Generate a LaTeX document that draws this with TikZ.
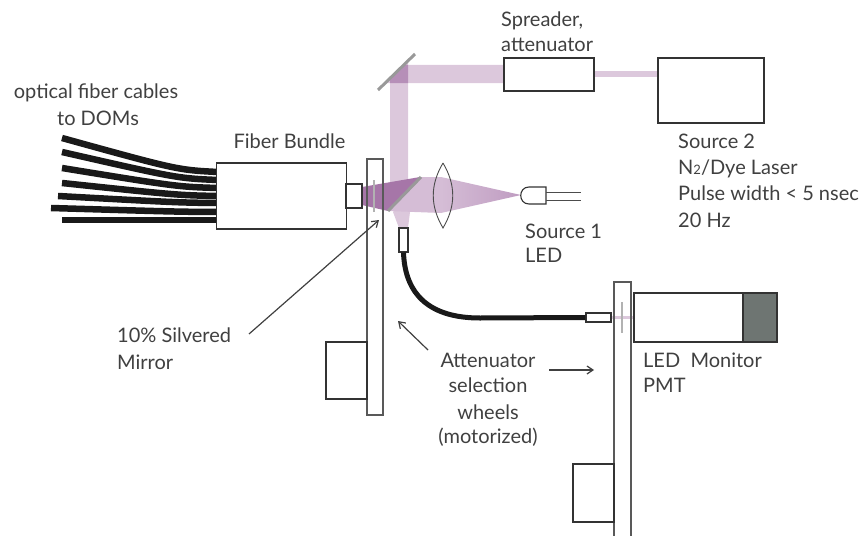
\documentclass[tikz,border=0pt]{standalone}
\usepackage{fontspec}
\setmainfont{Lato}
\usetikzlibrary{arrows.meta,calc}
\colorlet{line edge}{black!80}
\colorlet{mirror edge}{black!40}
\definecolor{beam light}{HTML}{DCC8DC}
\definecolor{beam mid}{HTML}{D5BDD6}
\definecolor{beam dark}{HTML}{A676A8}
\definecolor{beam lamp}{HTML}{BF9CC1}
\definecolor{pmt end}{HTML}{6E7572}
\tikzset{
  label/.style={inner sep=0pt, text=black!75, font=\fontsize{20}{20}\selectfont},
  flabel/.style={label, anchor=base west},
  clabel/.style={label, anchor=base},
  box/.style={draw=line edge, line width=1.1pt, inner sep=0pt, fill=white},
  plate/.style={draw=black!65, line width=1.3pt, inner sep=0pt},
  mirror/.style={draw=mirror edge, line width=3pt},
  pointer/.style={draw=black!75, line width=1.2pt, -{Straight Barb[length=6pt,width=8pt]}},
  fiber/.style={draw=black!90, line width=6.5pt}
  }
\tikzstyle{slit} = [draw=black!30, line width=2pt]
\tikzstyle{cable} = [draw=black!90, line width=5pt]
\begin{document}
\begin{tikzpicture}[x=1pt,y=-1pt]
   \useasboundingbox (0,0) rectangle (864,535);

   % light paths go first, the boxes sit on top of them
   \fill[beam light] (594,71) rectangle (658,77);
   \fill[beam light] (404,65) -- (504,65) -- (504,83) -- (385,83) -- cycle;
   \fill[beam light] (390,78) -- (408,61) -- (408,195) -- (390,210) -- cycle;
   \fill[beam dark!70!beam light] (404,65) -- (408,65) -- (408,83) -- (390,83) -- (390,78) -- cycle;
   \fill[beam light] (393,212) -- (408,196) -- (410,212) -- (408,228) -- (399,228) -- cycle;
   \fill[beam dark] (362,187) -- (420,177) -- (388,211) -- (362,205) -- cycle;
   \fill[beam mid] (420,177) -- (441,177) -- (441,213) -- (388,211) -- cycle;
   \shade[left color=beam mid, right color=beam lamp] (441,177) -- (521,195) -- (441,213) -- cycle;
   \fill[beam light] (610,316) rectangle (634,319);

   % fibers running into the bundle
   \foreach \i/\sx/\sy/\ey in {1/62/138/172, 2/62/152/180, 3/62/168/188, 4/62/183/196,
                               5/58/196/203, 6/51/208/212, 7/62/220/220}{
     \coordinate (s\i) at (\sx,\sy);
     \coordinate (e\i) at (218,\ey);
     \path[fiber] (s\i) .. controls ($(185,\ey)!0.06!(s\i)$) .. (e\i);
   }

   \node[box, minimum width=130pt, minimum height=66pt] (bundle) at (281.5,196) {};
   \node[box, minimum width=16pt, minimum height=24pt] (ferrule) at (354,196) {};
   \node[box, minimum width=90pt, minimum height=33pt] (spreader) at (549,74.5) {};
   \node[box, minimum width=106pt, minimum height=65pt] (laser) at (711,90.5) {};

   \node[plate, minimum width=16pt, minimum height=256pt] (wheel a) at (375,287) {};
   \node[plate, minimum width=17pt, minimum height=262pt] (wheel b) at (622.5,413) {};
   \node[box, minimum width=41pt, minimum height=57pt] (motor a) at (346.5,370.5) {};
   \node[box, minimum width=41pt, minimum height=58pt] (motor b) at (593.5,493) {};
   \draw[slit] (374,180) -- (374,212);
   \draw[slit] (622,302) -- (622,333);

   \coordinate (upper low) at (378,90);
   \coordinate (upper high) at (415,54);
   \coordinate (split low) at (388,211);
   \coordinate (split high) at (421,177);
   \path[mirror] (upper low) -- (upper high);
   \path[mirror] (split low) -- (split high);

   % lens
   \coordinate (lens top) at (443,163);
   \coordinate (lens bottom) at (443,228);
   \draw[draw=black!70, line width=0.9pt] (lens top) .. controls (430,185) and (430,206) .. (lens bottom)
        .. controls (456,206) and (456,185) .. (lens top);

   % LED head and its leads
   \draw[box] (546,187) -- (529,187) .. controls (518,187) and (518,204) .. (529,204) -- (546,204) -- cycle;
   \coordinate (led top) at (546,192);
   \coordinate (led low) at (546,200);
   \coordinate (lead top) at (581,192);
   \coordinate (lead low) at (581,200);
   \draw[draw=black!70, line width=0.9pt] (led top) -- (lead top);
   \draw[draw=black!70, line width=0.9pt] (led low) -- (lead low);

   % monitor fiber
   \node[box, minimum width=9pt, minimum height=24pt] (pickup) at (403.5,240) {};
   \node[box, minimum width=25pt, minimum height=9pt] (tip) at (598.5,317.5) {};
   \path[cable] (pickup.south) .. controls (405,295) and (430,318) .. (480,318) -- (tip.west);

   % PMT
   \node[box, minimum width=143pt, minimum height=49pt] (pmt) at (705.5,317.5) {};
   \node[box, fill=pmt end, minimum width=34pt, minimum height=49pt] (dynode) at (760,317.5) {};

   % text, placed by baseline
   \node[clabel] (cables a) at (96,98) {optical fiber cables};
   \node[clabel] (cables b) at (98,125) {to DOMs};
   \node[clabel] (bundle text) at (289.5,148) {Fiber Bundle};
   \node[flabel] (spreader a) at (501,27) {Spreader,};
   \node[flabel] (spreader b) at (501,52) {attenuator};
   \node[flabel] (laser a) at (678,148) {Source 2};
   \node[flabel] (laser b) at (678,174) {N{\fontsize{13}{13}\selectfont 2}/Dye Laser};
   \node[flabel] (laser c) at (678,200) {Pulse width < 5 nsec};
   \node[flabel] (laser d) at (678,227) {20 Hz};
   \node[flabel] (led a) at (525,238) {Source 1};
   \node[flabel] (led b) at (525,262) {LED};
   \node[flabel] (silver a) at (117,342) {10\% Silvered};
   \node[flabel] (silver b) at (117,369) {Mirror};
   \node[clabel] (wheels a) at (488,367) {Attenuator};
   \node[clabel] (wheels b) at (488,392) {selection};
   \node[clabel] (wheels c) at (488,419) {wheels};
   \node[clabel] (wheels d) at (488,443) {(motorized)};
   \node[flabel] (pmt a) at (643,367) {LED\ \ Monitor};
   \node[flabel] (pmt b) at (643,392) {PMT};

   % pointers
   \coordinate (silver tip) at (379,220);
   \coordinate (silver tail) at (249,334);
   \coordinate (wheel tip) at (398,321);
   \coordinate (wheel tail) at (428,350);
   \coordinate (right tip) at (594,370);
   \coordinate (right tail) at (549,370);
   \path[pointer] (silver tail) -- (silver tip);
   \path[pointer] (wheel tail) -- (wheel tip);
   \path[pointer] (right tail) -- (right tip);
\end{tikzpicture}
\end{document}
